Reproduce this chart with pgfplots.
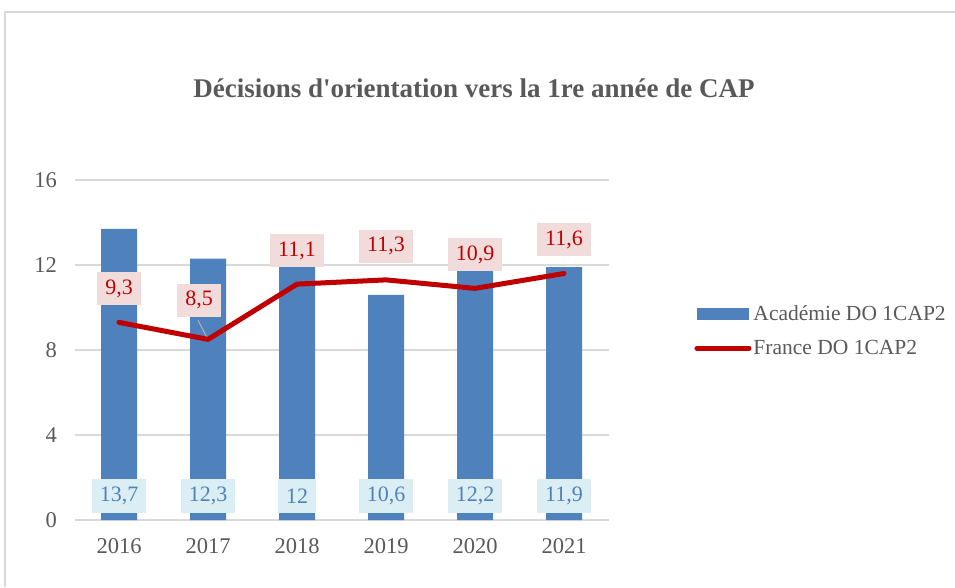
\documentclass[border=0pt]{standalone}
\usepackage{pgfplots}
\pgfplotsset{compat=1.18}
\usepackage{fontspec}
\setmainfont{Liberation Serif}

\definecolor{barblue}{HTML}{4F81BD}
\definecolor{lblblue}{HTML}{DBEEF4}
\definecolor{linered}{HTML}{C00000}
\definecolor{lblpink}{HTML}{F2DCDB}
\definecolor{txtgray}{HTML}{595959}
\definecolor{gridgray}{HTML}{D9D9D9}

\pgfplotstableread{
x y
0 13.7
1 12.3
2 12
3 10.6
4 12.2
5 11.9
}\academie

% dx, dy: offset of the data label
\pgfplotstableread{
x y dx dy
0 9.3 0 14.5
1 8.5 -9 20
2 11.1 0 14.5
3 11.3 0 14.5
4 10.9 0 14.5
5 11.6 0 14.5
}\france

\begin{document}
\begin{tikzpicture}
\useasboundingbox (0pt,0pt) rectangle (955pt,587pt);
\draw[gridgray, line width=1.5pt] (5pt,0pt) -- (5pt,575pt) -- (955pt,575pt);
\node[font=\fontsize{27}{32}\selectfont\bfseries, text=txtgray] at (474pt,499pt)
  {Décisions d\textquotesingle orientation vers la 1re année de CAP};
\begin{axis}[
    at={(74.5pt,67pt)},
    anchor=south west,
    scale only axis,
    width=534pt,
    height=340pt,
    xmin=-0.5, xmax=5.5,
    ymin=0, ymax=16,
    ytick={0,4,8,12,16},
    xtick={0,1,2,3,4,5},
    xticklabels={2016,2017,2018,2019,2020,2021},
    axis line style={draw=none},
    major tick length=0pt,
    ymajorgrids,
    grid style={gridgray, line width=1.5pt},
    tick label style={font=\fontsize{22.5}{27}\selectfont, text=txtgray},
    yticklabel style={xshift=-14pt},
    xticklabel style={yshift=-15pt},
    /pgf/number format/assume math mode=true,
    /pgf/number format/use comma,
    legend style={at={(1.155,0.556)}, anchor=west, draw=none, fill=none,
      font=\fontsize{21.5}{25}\selectfont, text=txtgray, row sep=14pt,
      /tikz/every even column/.append style={column sep=1pt}},
    legend cell align=left,
]
\addplot[ybar, bar width=36pt, fill=barblue, draw=none,
    legend image code/.code={\fill[barblue] (0pt,-6pt) rectangle (52pt,6pt);},
    visualization depends on={rawy \as \ry},
    nodes near coords,
    nodes near coords style={anchor=center, yshift={24pt-\ry*21.25pt},
      fill=lblblue, text=barblue, font=\fontsize{22}{26}\selectfont,
      minimum height=34pt, inner xsep=8pt,
      /pgf/number format/.cd, fixed, precision=1, use comma, assume math mode=true},
] table {\academie};
\addlegendentry{Académie DO 1CAP2}

\draw[gray!60, line width=1pt] (axis cs:1,8.5) -- ++(-10pt,19pt);

\addplot[linered, line width=5pt, mark=none, line join=round, line cap=round,
    legend image code/.code={\draw[linered, line width=5pt, line cap=round] (0pt,0pt) -- (52pt,0pt);},
    visualization depends on={\thisrow{dx} \as \dx},
    visualization depends on={\thisrow{dy} \as \dy},
    nodes near coords,
    nodes near coords style={anchor=south, xshift=\dx pt, yshift=\dy pt,
      fill=lblpink, text=linered, font=\fontsize{22}{26}\selectfont,
      minimum height=33pt, inner xsep=8pt,
      /pgf/number format/.cd, fixed, precision=1, use comma, assume math mode=true},
] table[x=x, y=y] {\france};
\addlegendentry{France DO 1CAP2}
\end{axis}
\end{tikzpicture}
\end{document}
